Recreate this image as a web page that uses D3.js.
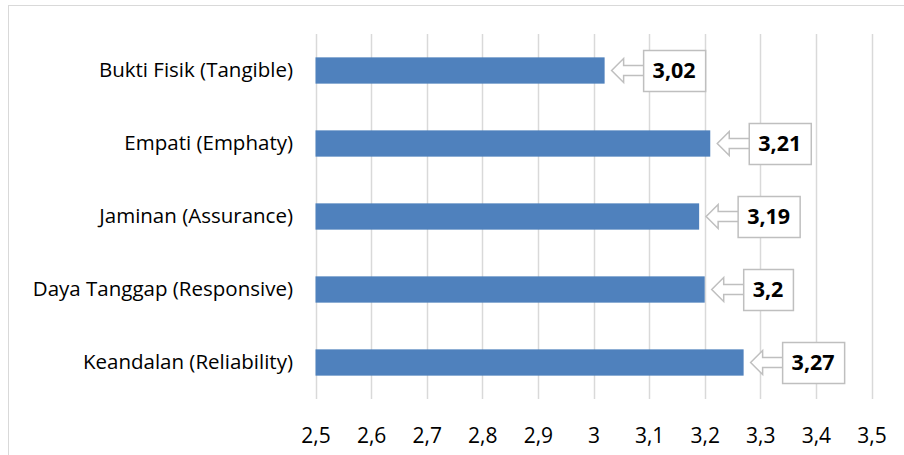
<!DOCTYPE html>
<html>
<head>
<meta charset="utf-8">
<script src="https://cdn.jsdelivr.net/npm/d3@7"></script>
<style>
  body { margin: 0; background: #fff; }
  text { font-family: "Open Sans", sans-serif; font-variant-ligatures: none; }
</style>
</head>
<body>
<div id="chart"></div>
<script>
var categories = ['Bukti Fisik (Tangible)', 'Empati (Emphaty)', 'Jaminan (Assurance)', 'Daya Tanggap (Responsive)', 'Keandalan (Reliability)'];
var values = [3.02, 3.21, 3.19, 3.2, 3.27];
var tickValues = [2.5, 2.6, 2.7, 2.8, 2.9, 3, 3.1, 3.2, 3.3, 3.4, 3.5];

var width = 904, height = 455;
var comma = function(v) { return String(v).replace('.', ','); };
var font = '"Open Sans", sans-serif';

var svg = d3.select('#chart')
    .append('svg')
    .attr('width', width)
    .attr('height', height);

// chart border (cut off on the right and bottom like the original)
svg.append('rect')
    .attr('x', 8.5).attr('y', 5.5)
    .attr('width', 1000).attr('height', 1000)
    .attr('fill', 'none')
    .attr('stroke', '#d9d9d9');

var x = d3.scaleLinear().domain([2.5, 3.5]).range([315.5, 871.5]);
var y = d3.scaleBand().domain(categories).range([34, 399]).paddingInner(0.64).paddingOuter(0.32);

// gridlines
svg.selectAll('.grid')
    .data(tickValues)
    .enter()
    .append('line')
    .attr('class', 'grid')
    .attr('x1', function(d) { return Math.round(x(d)) + 0.5; })
    .attr('x2', function(d) { return Math.round(x(d)) + 0.5; })
    .attr('y1', 34)
    .attr('y2', 399)
    .attr('stroke', '#d9d9d9')
    .attr('stroke-width', 1.5);

// x axis labels
var xAxis = svg.append('g')
    .attr('transform', 'translate(0,425)')
    .call(d3.axisBottom(x).tickValues(tickValues).tickSize(0).tickFormat(comma));
xAxis.select('.domain').remove();
xAxis.attr('font-size', 21).attr('font-family', font);
xAxis.selectAll('text').attr('fill', '#000');

// category labels
var yAxis = svg.append('g')
    .attr('transform', 'translate(293,0)')
    .call(d3.axisLeft(y).tickSize(0).tickPadding(0));
yAxis.select('.domain').remove();
yAxis.attr('font-size', 20.5).attr('font-family', font);
yAxis.selectAll('text').attr('fill', '#000');

// bars
svg.selectAll('.bar')
    .data(values)
    .enter()
    .append('rect')
    .attr('class', 'bar')
    .attr('x', x(2.5))
    .attr('y', function(d, i) { return y(categories[i]); })
    .attr('width', function(d) { return x(d) - x(2.5); })
    .attr('height', y.bandwidth())
    .attr('fill', '#4f81bd');

// left-arrow callouts
var callout = svg.selectAll('.callout')
    .data(values)
    .enter()
    .append('g')
    .attr('class', 'callout')
    .attr('transform', function(d, i) {
        return 'translate(' + x(d) + ',' + (y(categories[i]) + y.bandwidth() / 2) + ')';
    });

callout.append('text')
    .attr('x', 48)
    .attr('y', 0)
    .attr('dy', '0.36em')
    .attr('font-size', 21.5)
    .attr('font-weight', 'bold')
    .attr('fill', '#000')
    .text(comma);

callout.each(function() {
    var g = d3.select(this);
    var w = g.select('text').node().getComputedTextLength();
    var bx = 39, bw = w + 19;
    g.insert('path', 'text')
        .attr('d', 'M' + bx + ',-5 L19,-5 L19,-12 L7,0 L19,12 L19,5 L' + bx + ',5')
        .attr('fill', '#fff')
        .attr('stroke', '#bfbfbf')
        .attr('stroke-width', 1.5);
    g.insert('rect', 'text')
        .attr('x', bx).attr('y', -20)
        .attr('width', bw).attr('height', 41)
        .attr('fill', '#fff')
        .attr('stroke', '#bfbfbf')
        .attr('stroke-width', 1.5);
});
</script>
</body>
</html>
